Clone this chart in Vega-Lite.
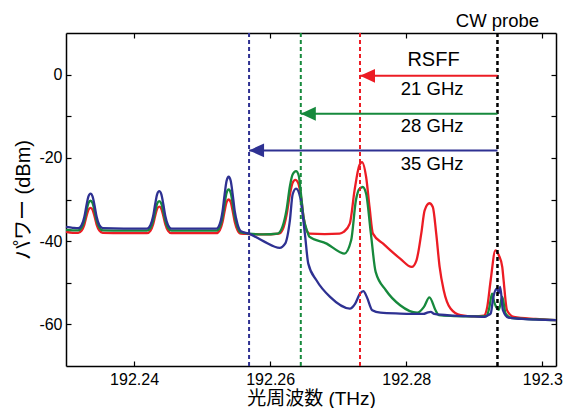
{
  "$schema": "https://vega.github.io/schema/vega-lite/v6.json",
  "width": 490,
  "height": 333,
  "autosize": "none",
  "padding": {"left": 66, "top": 33, "right": 10, "bottom": 42},
  "background": "white",
  "config": {
    "view": {"stroke": null},
    "font": "Liberation Sans",
    "axis": {
      "grid": false,
      "domainColor": "black",
      "domainWidth": 1.5,
      "tickColor": "black",
      "tickWidth": 1.2,
      "tickSize": -5,
      "labelColor": "black",
      "labelFont": "Liberation Sans",
      "labelFontSize": 16,
      "titleFont": "Liberation Sans, Noto Sans CJK JP",
      "titleFontSize": 20,
      "titleFontWeight": "normal",
      "titleColor": "black"
    }
  },
  "datasets": {
    "red": [
      {"f":192.2300,"p":-37.8},{"f":192.2310,"p":-38.0},{"f":192.2318,"p":-38.0},{"f":192.2323,"p":-37.46},{"f":192.2327,"p":-36.02},{"f":192.2330,"p":-34.1},{"f":192.2333,"p":-32.48},{"f":192.2336,"p":-32.0},{"f":192.2339,"p":-32.48},{"f":192.2342,"p":-34.1},{"f":192.2345,"p":-36.02},{"f":192.2349,"p":-37.46},{"f":192.2354,"p":-38.0},{"f":192.2385,"p":-38.1},
      {"f":192.2419,"p":-38.1},{"f":192.2424,"p":-37.52},{"f":192.2428,"p":-35.99},{"f":192.2431,"p":-33.94},{"f":192.2434,"p":-32.21},{"f":192.2437,"p":-31.7},{"f":192.2440,"p":-32.21},{"f":192.2443,"p":-33.94},{"f":192.2446,"p":-35.99},{"f":192.2450,"p":-37.52},{"f":192.2455,"p":-38.1},{"f":192.2490,"p":-38.1},
      {"f":192.2521,"p":-38.1},{"f":192.2526,"p":-37.37},{"f":192.2530,"p":-35.43},{"f":192.2533,"p":-32.83},{"f":192.2536,"p":-30.65},{"f":192.2539,"p":-30.0},{"f":192.2542,"p":-30.65},{"f":192.2545,"p":-32.83},{"f":192.2548,"p":-35.43},{"f":192.2552,"p":-37.37},{"f":192.2557,"p":-38.2},
      {"f":192.2569,"p":-38.3},{"f":192.2590,"p":-38.4},{"f":192.2613,"p":-38.2},{"f":192.2619,"p":-37.0},{"f":192.2624,"p":-33.8},{"f":192.2629,"p":-28.8},{"f":192.2633,"p":-26.0},{"f":192.2637,"p":-25.3},{"f":192.2641,"p":-26.0},{"f":192.2645,"p":-29.0},{"f":192.2649,"p":-34.2},{"f":192.2654,"p":-37.6},{"f":192.2658,"p":-38.2},{"f":192.2680,"p":-38.3},{"f":192.2702,"p":-38.2},{"f":192.2708,"p":-37.8},{"f":192.2717,"p":-35.8},{"f":192.2724,"p":-27.8},{"f":192.2731,"p":-21.8},{"f":192.2735,"p":-21.0},{"f":192.2741,"p":-24.6},{"f":192.2746,"p":-31.8},{"f":192.2751,"p":-38.2},{"f":192.2766,"p":-40.6},{"f":192.2791,"p":-44.2},{"f":192.2808,"p":-46.2},{"f":192.2815,"p":-44.6},{"f":192.2822,"p":-38.2},{"f":192.2827,"p":-32.6},{"f":192.2834,"p":-30.9},{"f":192.2839,"p":-31.8},{"f":192.2844,"p":-38.2},{"f":192.2849,"p":-46.2},{"f":192.2855,"p":-51.8},{"f":192.2865,"p":-56.2},{"f":192.2880,"p":-57.8},{"f":192.2900,"p":-58.1},{"f":192.2914,"p":-57.9},{"f":192.2919,"p":-55.8},{"f":192.2924,"p":-49.4},{"f":192.2931,"p":-42.2},{"f":192.2936,"p":-43.4},{"f":192.2941,"p":-46.2},{"f":192.2943,"p":-49.4},{"f":192.2948,"p":-56.6},{"f":192.2958,"p":-58.2},{"f":192.2990,"p":-58.7},{"f":192.3020,"p":-59.0}
    ],
    "green": [
      {"f":192.2300,"p":-37.3},{"f":192.2310,"p":-37.4},{"f":192.2318,"p":-37.4},{"f":192.2323,"p":-36.76},{"f":192.2327,"p":-35.06},{"f":192.2330,"p":-32.78},{"f":192.2333,"p":-30.87},{"f":192.2336,"p":-30.3},{"f":192.2339,"p":-30.87},{"f":192.2342,"p":-32.78},{"f":192.2345,"p":-35.06},{"f":192.2349,"p":-36.76},{"f":192.2354,"p":-37.4},{"f":192.2385,"p":-37.5},
      {"f":192.2419,"p":-37.5},{"f":192.2424,"p":-36.86},{"f":192.2428,"p":-35.16},{"f":192.2431,"p":-32.88},{"f":192.2434,"p":-30.97},{"f":192.2437,"p":-30.4},{"f":192.2440,"p":-30.97},{"f":192.2443,"p":-32.88},{"f":192.2446,"p":-35.16},{"f":192.2450,"p":-36.86},{"f":192.2455,"p":-37.5},{"f":192.2490,"p":-37.5},
      {"f":192.2521,"p":-37.5},{"f":192.2526,"p":-36.61},{"f":192.2530,"p":-34.23},{"f":192.2533,"p":-31.06},{"f":192.2536,"p":-28.39},{"f":192.2539,"p":-27.6},{"f":192.2542,"p":-28.39},{"f":192.2545,"p":-31.06},{"f":192.2548,"p":-34.23},{"f":192.2552,"p":-36.61},{"f":192.2557,"p":-37.9},
      {"f":192.2569,"p":-38.2},{"f":192.2590,"p":-38.4},{"f":192.2611,"p":-38.2},{"f":192.2618,"p":-36.6},{"f":192.2624,"p":-32.5},{"f":192.2629,"p":-26.8},{"f":192.2633,"p":-24.0},{"f":192.2638,"p":-23.2},{"f":192.2642,"p":-24.3},{"f":192.2645,"p":-28.3},{"f":192.2649,"p":-34.2},{"f":192.2654,"p":-37.4},{"f":192.2658,"p":-39.0},{"f":192.2683,"p":-40.6},{"f":192.2702,"p":-42.6},{"f":192.2709,"p":-43.0},{"f":192.2719,"p":-39.8},{"f":192.2726,"p":-30.2},{"f":192.2731,"p":-27.5},{"f":192.2736,"p":-27.0},{"f":192.2741,"p":-28.6},{"f":192.2748,"p":-38.2},{"f":192.2755,"p":-47.4},{"f":192.2770,"p":-51.8},{"f":192.2791,"p":-55.4},{"f":192.2816,"p":-57.2},{"f":192.2826,"p":-55.8},{"f":192.2834,"p":-53.5},{"f":192.2843,"p":-56.6},{"f":192.2848,"p":-57.8},{"f":192.2870,"p":-58.0},{"f":192.2900,"p":-58.1},{"f":192.2918,"p":-58.0},{"f":192.2922,"p":-56.0},{"f":192.2926,"p":-52.6},{"f":192.2929,"p":-54.5},{"f":192.2932,"p":-55.8},{"f":192.2936,"p":-56.5},{"f":192.2941,"p":-53.4},{"f":192.2946,"p":-57.4},{"f":192.2955,"p":-58.5},{"f":192.2990,"p":-58.8},{"f":192.3020,"p":-59.0}
    ],
    "blue": [
      {"f":192.2300,"p":-36.6},{"f":192.2310,"p":-36.8},{"f":192.2318,"p":-36.9},{"f":192.2323,"p":-36.15},{"f":192.2327,"p":-34.16},{"f":192.2330,"p":-31.5},{"f":192.2333,"p":-29.26},{"f":192.2336,"p":-28.6},{"f":192.2339,"p":-29.26},{"f":192.2342,"p":-31.5},{"f":192.2345,"p":-34.16},{"f":192.2349,"p":-36.15},{"f":192.2354,"p":-36.9},{"f":192.2385,"p":-37.0},
      {"f":192.2419,"p":-37.0},{"f":192.2424,"p":-36.19},{"f":192.2428,"p":-34.03},{"f":192.2431,"p":-31.15},{"f":192.2434,"p":-28.72},{"f":192.2437,"p":-28.0},{"f":192.2440,"p":-28.72},{"f":192.2443,"p":-31.15},{"f":192.2446,"p":-34.03},{"f":192.2450,"p":-36.19},{"f":192.2455,"p":-37.0},{"f":192.2490,"p":-37.0},
      {"f":192.2521,"p":-37.0},{"f":192.2526,"p":-35.88},{"f":192.2530,"p":-32.88},{"f":192.2533,"p":-28.88},{"f":192.2536,"p":-25.5},{"f":192.2539,"p":-24.5},{"f":192.2542,"p":-25.5},{"f":192.2545,"p":-28.88},{"f":192.2548,"p":-32.88},{"f":192.2552,"p":-35.88},{"f":192.2557,"p":-37.6},
      {"f":192.2569,"p":-38.2},{"f":192.2590,"p":-40.0},{"f":192.2614,"p":-41.6},{"f":192.2622,"p":-40.6},{"f":192.2629,"p":-35.0},{"f":192.2633,"p":-28.8},{"f":192.2638,"p":-27.4},{"f":192.2644,"p":-29.4},{"f":192.2651,"p":-38.2},{"f":192.2656,"p":-45.4},{"f":192.2668,"p":-49.4},{"f":192.2688,"p":-53.4},{"f":192.2717,"p":-56.2},{"f":192.2725,"p":-55.0},{"f":192.2732,"p":-52.6},{"f":192.2737,"p":-52.0},{"f":192.2742,"p":-53.4},{"f":192.2750,"p":-56.6},{"f":192.2762,"p":-57.2},{"f":192.2791,"p":-57.4},{"f":192.2825,"p":-57.5},{"f":192.2832,"p":-57.1},{"f":192.2836,"p":-57.0},{"f":192.2841,"p":-57.5},{"f":192.2870,"p":-57.9},{"f":192.2900,"p":-58.1},{"f":192.2915,"p":-58.2},{"f":192.2920,"p":-57.8},{"f":192.2924,"p":-57.4},{"f":192.2928,"p":-53.4},{"f":192.2933,"p":-51.4},{"f":192.2936,"p":-52.5},{"f":192.2938,"p":-51.0},{"f":192.2942,"p":-56.6},{"f":192.2950,"p":-58.4},{"f":192.2970,"p":-58.7},{"f":192.3020,"p":-59.0}
    ],
    "vlines": [
      {"f":192.2569,"c":"35 GHz"},
      {"f":192.2645,"c":"28 GHz"},
      {"f":192.2732,"c":"21 GHz"}
    ],
    "probe": [{"f":192.2934}],
    "arrows": [
      {"f1":192.2732,"f2":192.2934,"p":-0.3,"c":"21 GHz"},
      {"f1":192.2645,"f2":192.2934,"p":-9.4,"c":"28 GHz"},
      {"f1":192.2569,"f2":192.2934,"p":-18.2,"c":"35 GHz"}
    ],
    "labels": [
      {"f":192.2838,"p":-3.4,"t":"21 GHz"},
      {"f":192.2838,"p":-12.4,"t":"28 GHz"},
      {"f":192.2838,"p":-21.4,"t":"35 GHz"}
    ],
    "rsff": [{"f":192.2840,"p":3.4,"t":"RSFF"}],
    "cw": [{"f":192.2934,"p":12.9,"t":"CW probe"}]
  },
  "layer": [
    {
      "data": {"name": "red"},
      "mark": {"type": "line", "color": "#ec1c24", "strokeWidth": 2.3, "interpolate": "monotone"},
      "encoding": {
        "x": {"field": "f", "type": "quantitative", "scale": {"domain": [192.23, 192.302], "nice": false, "zero": false},
              "axis": {"orient": "bottom", "values": [192.24, 192.26, 192.28, 192.3], "labelExpr": "'' + datum.value", "labelPadding": 10, "title": "光周波数 (THz)", "titleFontSize": 19, "titleY": 32, "titleBaseline": "middle"}},
        "y": {"field": "p", "type": "quantitative", "scale": {"domain": [-70, 10], "nice": false, "zero": false},
              "axis": {"orient": "left", "values": [-60, -50, -40, -30, -20, -10, 0], "labelExpr": "datum.value % 20 === 0 ? '' + datum.value : ''", "labelPadding": 9, "title": "パワー (dBm)", "titlePadding": 5}}
      }
    },
    {
      "data": {"name": "green"},
      "mark": {"type": "line", "color": "#16893c", "strokeWidth": 2.3, "interpolate": "monotone"},
      "encoding": {
        "x": {"field": "f", "type": "quantitative", "scale": {"domain": [192.23, 192.302], "nice": false, "zero": false},
              "axis": {"orient": "top", "values": [192.24, 192.26, 192.28, 192.3], "labels": false, "title": null}},
        "y": {"field": "p", "type": "quantitative", "scale": {"domain": [-70, 10], "nice": false, "zero": false},
              "axis": {"orient": "right", "values": [-60, -50, -40, -30, -20, -10, 0], "labels": false, "title": null}}
      }
    },
    {
      "data": {"name": "blue"},
      "mark": {"type": "line", "color": "#2e3192", "strokeWidth": 2.3, "interpolate": "monotone"},
      "encoding": {
        "x": {"field": "f", "type": "quantitative", "scale": {"domain": [192.23, 192.302], "nice": false, "zero": false}, "axis": null},
        "y": {"field": "p", "type": "quantitative", "scale": {"domain": [-70, 10], "nice": false, "zero": false}, "axis": null}
      }
    },
    {
      "data": {"name": "vlines"},
      "mark": {"type": "rule", "strokeWidth": 2, "strokeDash": [4, 3]},
      "encoding": {
        "x": {"field": "f", "type": "quantitative", "scale": {"domain": [192.23, 192.302], "nice": false, "zero": false}, "axis": null},
        "color": {"field": "c", "type": "nominal", "scale": {"domain": ["21 GHz", "28 GHz", "35 GHz"], "range": ["#ec1c24", "#16893c", "#2e3192"]}, "legend": null}
      }
    },
    {
      "data": {"name": "probe"},
      "mark": {"type": "rule", "strokeWidth": 2.5, "strokeDash": [4, 3], "color": "black"},
      "encoding": {
        "x": {"field": "f", "type": "quantitative", "scale": {"domain": [192.23, 192.302], "nice": false, "zero": false}, "axis": null}
      }
    },
    {
      "data": {"name": "arrows"},
      "mark": {"type": "rule", "strokeWidth": 2},
      "encoding": {
        "x": {"field": "f1", "type": "quantitative", "scale": {"domain": [192.23, 192.302], "nice": false, "zero": false}, "axis": null},
        "x2": {"field": "f2"},
        "y": {"field": "p", "type": "quantitative", "scale": {"domain": [-70, 10], "nice": false, "zero": false}, "axis": null},
        "color": {"field": "c", "type": "nominal", "scale": {"domain": ["21 GHz", "28 GHz", "35 GHz"], "range": ["#ec1c24", "#16893c", "#2e3192"]}, "legend": null}
      }
    },
    {
      "data": {"name": "arrows"},
      "mark": {"type": "point", "shape": "M0,0L2,-0.93L2,0.93Z", "size": 225, "filled": true, "opacity": 1, "strokeWidth": 0},
      "encoding": {
        "x": {"field": "f1", "type": "quantitative", "scale": {"domain": [192.23, 192.302], "nice": false, "zero": false}, "axis": null},
        "y": {"field": "p", "type": "quantitative", "scale": {"domain": [-70, 10], "nice": false, "zero": false}, "axis": null},
        "color": {"field": "c", "type": "nominal", "scale": {"domain": ["21 GHz", "28 GHz", "35 GHz"], "range": ["#ec1c24", "#16893c", "#2e3192"]}, "legend": null}
      }
    },
    {
      "data": {"name": "labels"},
      "mark": {"type": "text", "fontSize": 18.5, "color": "black", "font": "Liberation Sans", "align": "center", "baseline": "middle"},
      "encoding": {
        "x": {"field": "f", "type": "quantitative", "scale": {"domain": [192.23, 192.302], "nice": false, "zero": false}, "axis": null},
        "y": {"field": "p", "type": "quantitative", "scale": {"domain": [-70, 10], "nice": false, "zero": false}, "axis": null},
        "text": {"field": "t"}
      }
    },
    {
      "data": {"name": "rsff"},
      "mark": {"type": "text", "fontSize": 20, "color": "black", "font": "Liberation Sans", "align": "center", "baseline": "middle"},
      "encoding": {
        "x": {"field": "f", "type": "quantitative", "scale": {"domain": [192.23, 192.302], "nice": false, "zero": false}, "axis": null},
        "y": {"field": "p", "type": "quantitative", "scale": {"domain": [-70, 10], "nice": false, "zero": false}, "axis": null},
        "text": {"field": "t"}
      }
    },
    {
      "data": {"name": "cw"},
      "mark": {"type": "text", "fontSize": 18.5, "color": "black", "font": "Liberation Sans", "align": "center", "baseline": "middle"},
      "encoding": {
        "x": {"field": "f", "type": "quantitative", "scale": {"domain": [192.23, 192.302], "nice": false, "zero": false}, "axis": null},
        "y": {"field": "p", "type": "quantitative", "scale": {"domain": [-70, 10], "nice": false, "zero": false}, "axis": null},
        "text": {"field": "t"}
      }
    }
  ],
  "resolve": {"axis": {"x": "independent", "y": "independent"}}
}
